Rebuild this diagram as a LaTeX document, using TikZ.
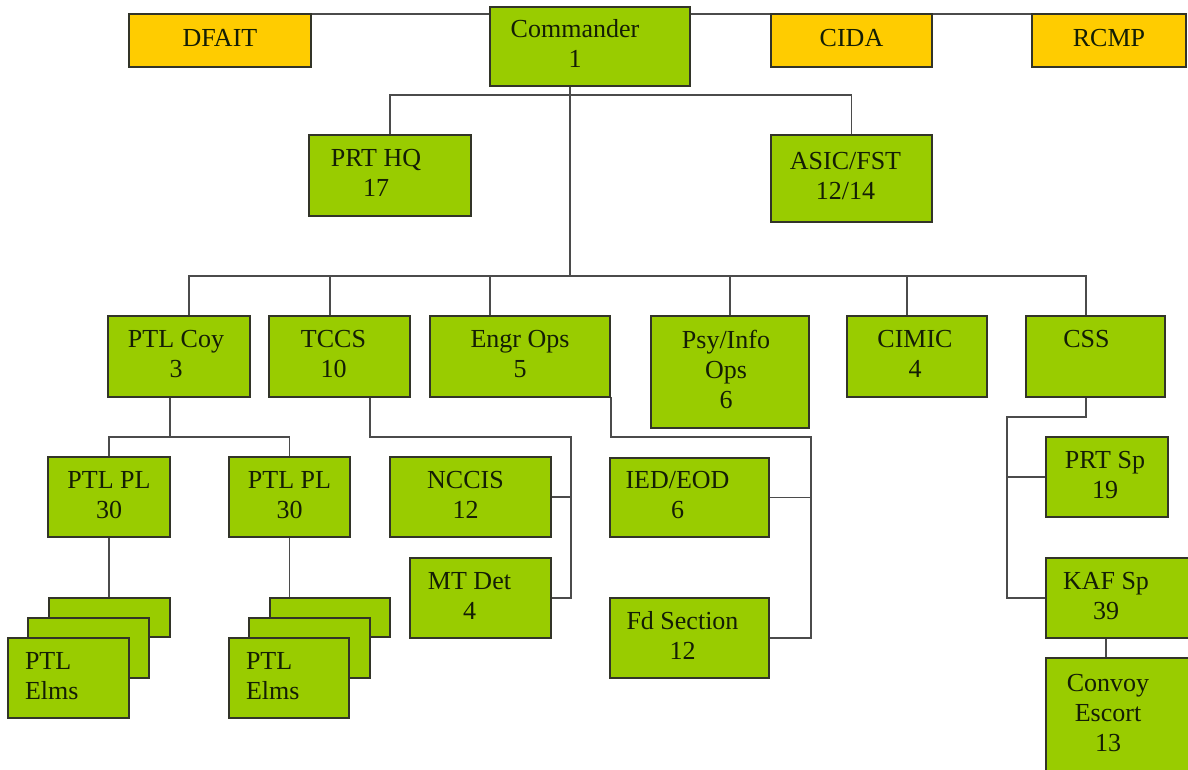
\documentclass[tikz,border=0pt]{standalone}
\usepackage{fontspec}
\setmainfont{Liberation Serif}
\usetikzlibrary{backgrounds}
\definecolor{boxgreen}{RGB}{153,204,0}
\definecolor{boxgold}{RGB}{255,204,0}
\definecolor{edge}{RGB}{50,52,40}
\definecolor{wire}{RGB}{75,75,75}
\definecolor{ink}{RGB}{20,30,5}
\tikzset{
  box/.style={draw=edge,line width=2pt,fill=boxgreen,inner sep=0pt,outer sep=0pt,
    text=ink,font=\fontsize{26}{30}\selectfont},
  gold/.style={fill=boxgold},
  conn/.style={draw=wire,line width=1.8pt}
}
% name, x1,y1,x2,y2, left shift of text, text
\newcommand\bx[8][]{\node[box,#1,minimum width={(#5-#3)*1pt},minimum height={(#6-#4)*1pt}]
  (#2) at ({(#3+#5)/2},{-(#4+#6)/2})
  {\kern-#7pt\begin{tabular}{@{}c@{}}#8\end{tabular}\kern#7pt};}
\newcommand\bxl[7][]{\node[box,#1,minimum width={(#5-#3)*1pt},minimum height={(#6-#4)*1pt}]
  (#2) at ({(#3+#5)/2},{-(#4+#6)/2})
  {\makebox[\dimexpr #5pt-#3pt-34pt\relax][l]{\begin{tabular}{@{}l@{}}#7\end{tabular}}};}
\begin{document}
\begin{tikzpicture}[x=1pt,y=1pt]
\useasboundingbox (0,0) rectangle (1188,-770);
\clip (0,0) rectangle (1188,-770);
% top row
\bx[gold]{dfait}{129}{14}{311}{67}{0}{DFAIT}
\bx{cmd}{490}{7}{690}{86}{15}{Commander\\1}
\bx[gold]{cida}{771}{14}{932}{67}{0}{CIDA}
\bx[gold]{rcmp}{1032}{14}{1186}{67}{0}{RCMP}
% second row
\bx{prthq}{309}{135}{471}{216}{14}{PRT HQ\\17}
\bx{asic}{771}{135}{932}{222}{6}{ASIC/FST\\12/14}
% third row
\bx{ptlcoy}{108}{316}{250}{397}{3}{PTL Coy\\3}
\bx{tccs}{269}{316}{410}{397}{6}{TCCS\\10}
\bx{engr}{430}{316}{610}{397}{0}{Engr Ops\\5}
\bx{psy}{651}{316}{809}{428}{4}{Psy/Info\\Ops\\6}
\bx{cimic}{847}{316}{987}{397}{2}{CIMIC\\4}
\bx{css}{1026}{316}{1165}{397}{9}{CSS\\ \mbox{}}
% fourth row
\bx{ptlplL}{48}{457}{170}{537}{0}{PTL PL\\30}
\bx{ptlplR}{229}{457}{350}{537}{0}{PTL PL\\30}
\bx{nccis}{390}{457}{551}{537}{5}{NCCIS\\12}
\bx{mtdet}{410}{558}{551}{638}{11}{MT Det\\4}
\bx{ied}{610}{458}{769}{537}{12}{IED/EOD\\6}
\bx{fd}{610}{598}{769}{678}{7}{Fd Section\\12}
\bx{prtsp}{1046}{437}{1168}{517}{2}{PRT Sp\\19}
\bx{kaf}{1046}{558}{1190}{638}{12}{KAF Sp\\39}
\bx{convoy}{1046}{658}{1190}{773}{10}{Convoy\\Escort\\13}
% stacks
\node[box,minimum width=121pt,minimum height=39pt] (stLb) at (109.5,-617.5) {};
\node[box,minimum width=121pt,minimum height=60pt] (stLm) at (88.5,-648) {};
\bxl{stLf}{8}{638}{129}{718}{PTL\\Elms}
\node[box,minimum width=120pt,minimum height=39pt] (stRb) at (330,-617.5) {};
\node[box,minimum width=121pt,minimum height=60pt] (stRm) at (309.5,-648) {};
\bxl{stRf}{229}{638}{349}{718}{PTL\\Elms}
\begin{scope}[on background layer]
\fill[white] (0,0) rectangle (1188,-770);
\draw[conn] (dfait.north east) -- (rcmp.north west);
\coordinate (r3) at (0,-276);
\draw[conn] ([xshift=-20pt]cmd.south) -- ([xshift=-20pt]cmd.south |- r3);
\draw[conn] (prthq.north) -- ++(0,40) -| (asic.north);
\draw[conn] ([xshift=10pt]ptlcoy.north) -- ++(0,40) -| ([xshift=-9.5pt]css.north);
\draw[conn] ([xshift=-9.5pt]tccs.north) -- ++(0,40);
\draw[conn] ([xshift=-30pt]engr.north) -- ++(0,40);
\draw[conn] (psy.north) -- ++(0,40);
\draw[conn] ([xshift=-10pt]cimic.north) -- ++(0,40);
% PTL Coy
\draw[conn] ([xshift=-9pt]ptlcoy.south) -- ++(0,-40);
\draw[conn] (ptlplL.north) -- ++(0,20) -| (ptlplR.north);
\draw[conn] (ptlplL.south) -- (ptlplL.south |- stLb.north);
\draw[conn] (ptlplR.south) -- (ptlplR.south |- stRb.north);
% TCCS
\draw[conn] ([xshift=30.5pt]tccs.south) -- ++(0,-40) -| ([xshift=20pt]mtdet.east) -- (mtdet.east);
\draw[conn] (nccis.east) -- ++(20,0);
% Engr
\draw[conn] ([xshift=1pt]engr.south east) -- ++(0,-40) -| ([xshift=42pt]fd.east) -- (fd.east);
\draw[conn] (ied.east) -- ++(42,0);
% CSS
\draw[conn] ([xshift=-9.5pt]css.south) -- ++(0,-20) -| ([xshift=-39pt]kaf.west) -- (kaf.west);
\draw[conn] (prtsp.west) -- ++(-39,0);
\draw[conn] ([xshift=-12pt]kaf.south) -- ([xshift=-12pt]kaf.south |- convoy.north);
\end{scope}
\end{tikzpicture}
\end{document}
